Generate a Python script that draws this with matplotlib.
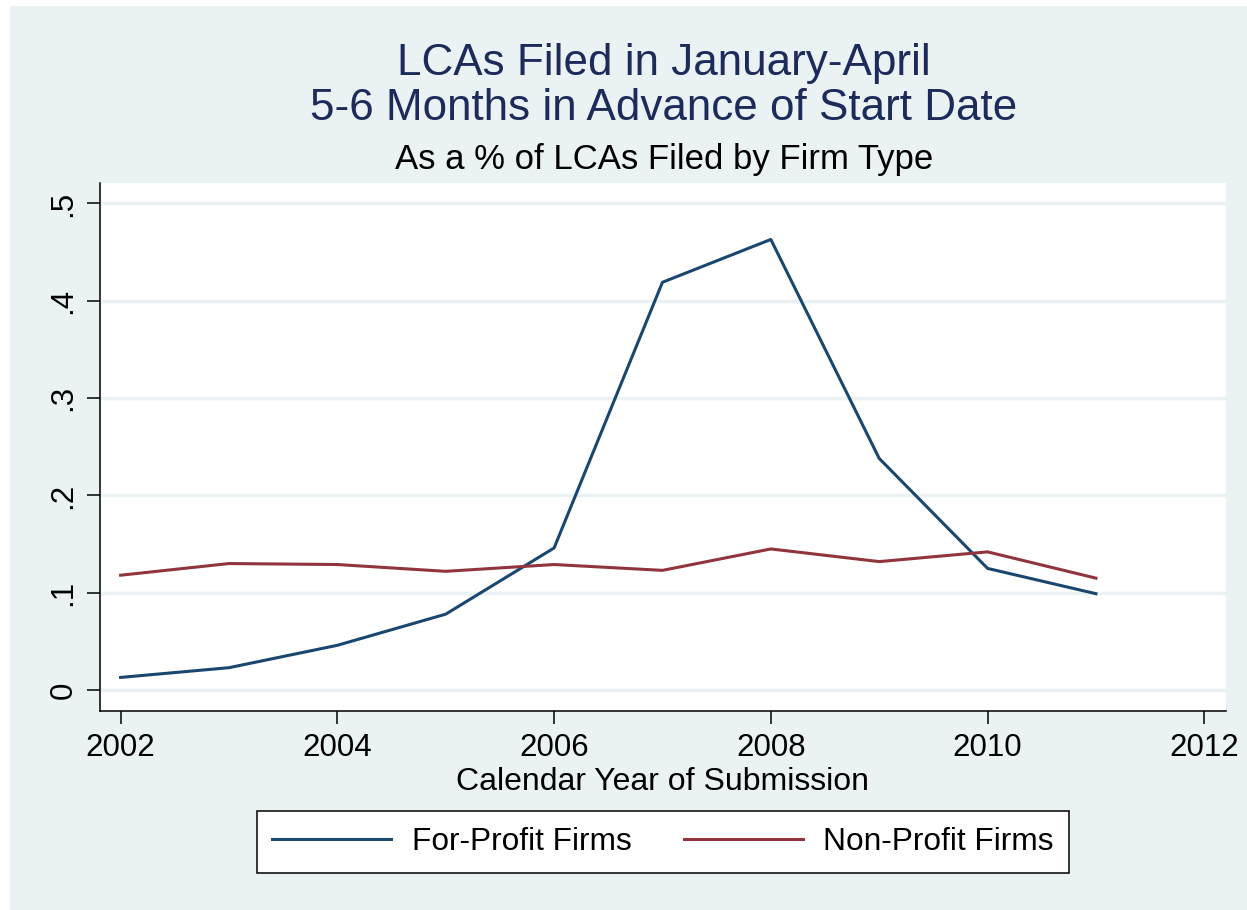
import matplotlib
matplotlib.use("Agg")
import matplotlib.pyplot as plt
from matplotlib.patches import Rectangle

plt.rcParams['font.family'] = ['Liberation Sans', 'DejaVu Sans']

years = [2002, 2003, 2004, 2005, 2006, 2007, 2008, 2009, 2010, 2011]
for_profit = [0.013, 0.023, 0.046, 0.078, 0.146, 0.419, 0.463, 0.238, 0.125, 0.099]
non_profit = [0.118, 0.130, 0.129, 0.122, 0.129, 0.123, 0.145, 0.132, 0.142, 0.115]

x_ticks = [2002, 2004, 2006, 2008, 2010, 2012]
y_ticks = [0, 0.1, 0.2, 0.3, 0.4, 0.5]
y_labels = ["0", ".1", ".2", ".3", ".4", ".5"]

bg = "#eaf2f3"
navy = "#1a476f"
maroon = "#90353b"
title_col = "#1c2b5a"

fig = plt.figure(figsize=(12.47, 9.10), dpi=100, facecolor="white")
# light panel behind everything (Stata graph region)
fig.patches.append(Rectangle((10 / 1247, 0), 1 - 10 / 1247, 1 - 6 / 910,
                             transform=fig.transFigure, facecolor=bg,
                             edgecolor="none", zorder=-10))

ax = fig.add_axes([100 / 1247, 1 - 711 / 910, 1126 / 1247, 528 / 910])
ax.set_facecolor("white")

ax.plot(years, for_profit, color=navy, lw=2.2, label="For-Profit Firms")
ax.plot(years, non_profit, color=maroon, lw=2.2, label="Non-Profit Firms")

ax.set_xlim(2001.81, 2012.2)
ax.set_ylim(-0.0215, 0.521)
ax.set_xticks(x_ticks)
ax.set_yticks(y_ticks)
ax.set_yticklabels(y_labels, rotation=90, va="center")
ax.tick_params(axis="both", direction="out", length=9.5, width=1.1,
               labelsize=22.5, pad=6, colors="black")
ax.grid(axis="y", color=bg, lw=2.5)
ax.set_axisbelow(True)
for s in ["top", "right"]:
    ax.spines[s].set_visible(False)
for s in ["left", "bottom"]:
    ax.spines[s].set_linewidth(1.1)
    ax.spines[s].set_color("black")

ax.set_xlabel("Calendar Year of Submission", fontsize=23, labelpad=3)

cx = 664 / 1247
fig.text(cx, 1 - 64 / 910, "LCAs Filed in January-April", ha="center",
         va="center", fontsize=31.7, color=title_col)
fig.text(cx, 1 - 109 / 910, "5-6 Months in Advance of Start Date",
         ha="center", va="center", fontsize=31.7, color=title_col)
fig.text(cx, 1 - 160 / 910, "As a % of LCAs Filed by Firm Type",
         ha="center", va="center", fontsize=25, color="black")

leg = fig.legend(loc="center", bbox_to_anchor=(663 / 1247, 1 - 842 / 910),
                 ncol=2, fontsize=22.8, frameon=True, fancybox=False,
                 edgecolor="black", facecolor="white", framealpha=1,
                 handlelength=3.75, handletextpad=0.65, columnspacing=1.65,
                 borderpad=0.5, borderaxespad=0)
leg.get_frame().set_linewidth(1.1)

fig.savefig("out.png", dpi=100, facecolor=fig.get_facecolor())
